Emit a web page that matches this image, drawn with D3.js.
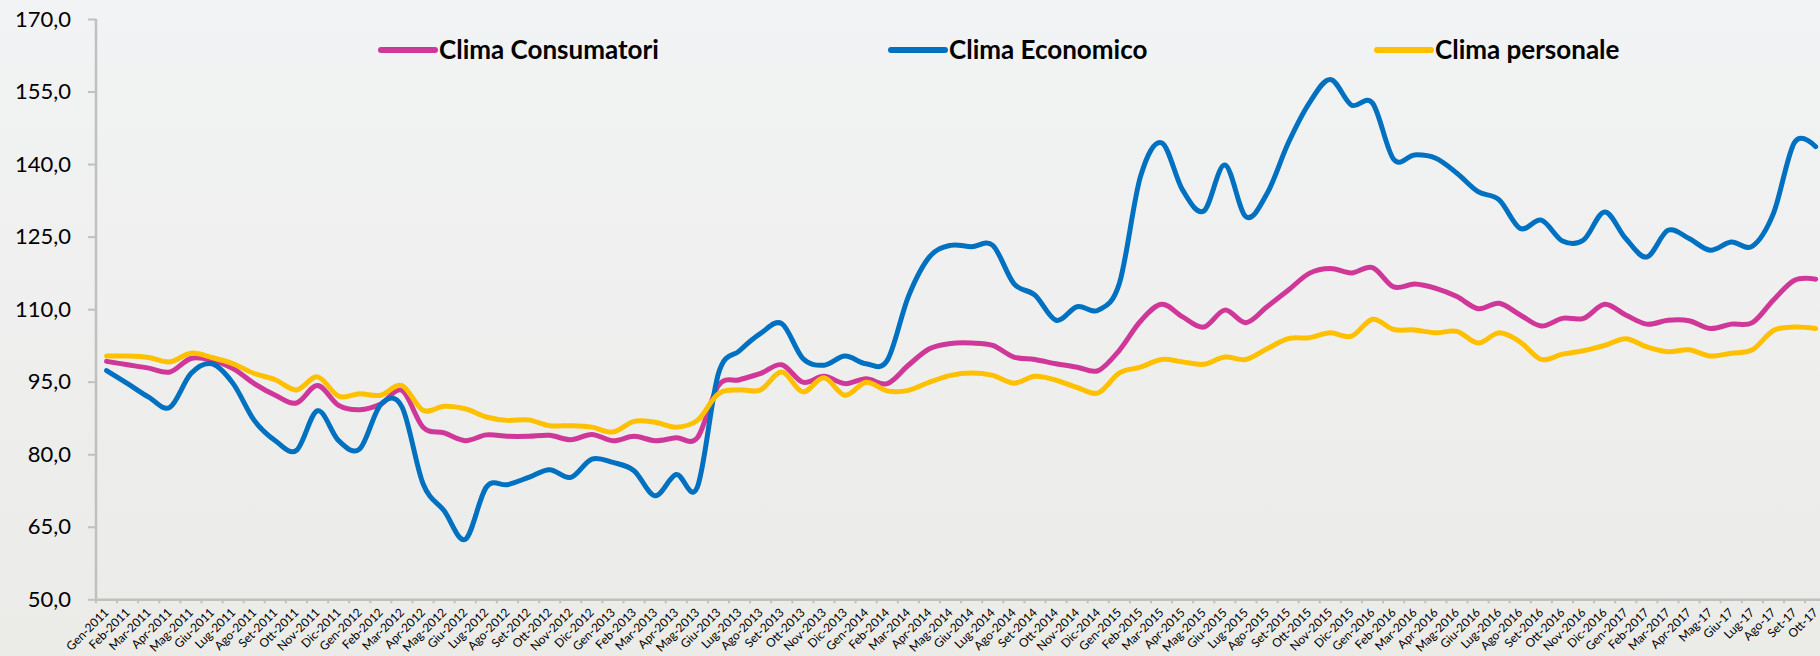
<!DOCTYPE html>
<html>
<head>
<meta charset="utf-8">
<script src="https://cdn.jsdelivr.net/npm/d3@7"></script>
<style>
  html, body { margin: 0; padding: 0; overflow: hidden; }
  body { width: 1820px; height: 656px; }
  text { font-family: Lato, "Noto Sans", sans-serif; fill: #000; }
</style>
</head>
<body>
<script>
// month labels on the x axis
var categories = [
  "Gen-2011","Feb-2011","Mar-2011","Apr-2011","Mag-2011","Giu-2011","Lug-2011","Ago-2011","Set-2011","Ott-2011","Nov-2011","Dic-2011",
  "Gen-2012","Feb-2012","Mar-2012","Apr-2012","Mag-2012","Giu-2012","Lug-2012","Ago-2012","Set-2012","Ott-2012","Nov-2012","Dic-2012",
  "Gen-2013","Feb-2013","Mar-2013","Apr-2013","Mag-2013","Giu-2013","Lug-2013","Ago-2013","Set-2013","Ott-2013","Nov-2013","Dic-2013",
  "Gen-2014","Feb-2014","Mar-2014","Apr-2014","Mag-2014","Giu-2014","Lug-2014","Ago-2014","Set-2014","Ott-2014","Nov-2014","Dic-2014",
  "Gen-2015","Feb-2015","Mar-2015","Apr-2015","Mag-2015","Giu-2015","Lug-2015","Ago-2015","Set-2015","Ott-2015","Nov-2015","Dic-2015",
  "Gen-2016","Feb-2016","Mar-2016","Apr-2016","Mag-2016","Giu-2016","Lug-2016","Ago-2016","Set-2016","Ott-2016","Nov-2016","Dic-2016",
  "Gen-2017","Feb-2017","Mar-2017","Apr-2017","Mag-17","Giu-17","Lug-17","Ago-17","Set-17","Ott-17"
];

var climaConsumatori = [
  99.2, 98.5, 97.8, 97.0, 99.8, 99.4, 97.7, 94.6, 92.2, 90.6, 94.2, 90.1,
  89.2, 90.4, 93.2, 85.6, 84.4, 82.8, 84.0, 83.7, 83.7, 83.9, 83.0, 84.1,
  82.8, 83.7, 82.8, 83.4, 83.4, 94.2, 95.4, 96.7, 98.5, 94.9, 96.1, 94.6,
  95.6, 94.6, 98.4, 101.8, 102.9, 103.0, 102.5, 100.1, 99.6, 98.7, 98.0, 97.3,
  101.5, 107.5, 111.0, 108.4, 106.3, 109.8, 107.2, 110.5, 113.9, 117.4, 118.4, 117.5,
  118.6, 114.6, 115.2, 114.3, 112.6, 110.1, 111.2, 108.8, 106.5, 108.1, 108.1, 111.0,
  108.8, 106.9, 107.7, 107.6, 106.0, 106.9, 107.2, 111.9, 116.0, 116.2
];

var climaEconomico = [
  97.3, 94.6, 91.8, 89.7, 96.7, 98.7, 94.6, 87.0, 82.8, 80.8, 89.0, 82.8,
  81.1, 90.3, 89.8, 73.9, 68.3, 62.4, 73.2, 73.7, 75.2, 76.8, 75.2, 79.0,
  78.3, 76.6, 71.4, 75.8, 73.2, 96.7, 101.4, 105.0, 107.0, 99.8, 98.4, 100.3,
  98.7, 99.4, 112.6, 120.8, 123.2, 122.9, 123.2, 115.3, 112.9, 107.7, 110.5, 109.8,
  115.3, 137.4, 144.4, 134.6, 130.3, 139.8, 129.1, 133.9, 144.3, 152.6, 157.5, 152.2,
  152.6, 141.0, 141.9, 141.2, 138.1, 134.3, 132.6, 126.7, 128.4, 124.1, 124.3, 130.1,
  124.6, 120.8, 126.3, 124.6, 122.2, 123.9, 123.0, 129.8, 144.5, 143.6
];

var climaPersonale = [
  100.3, 100.3, 100.0, 99.1, 100.9, 100.0, 98.7, 96.7, 95.4, 93.3, 96.0, 92.0,
  92.5, 92.2, 94.2, 89.1, 89.9, 89.4, 87.7, 87.0, 87.1, 85.9, 85.9, 85.6,
  84.6, 86.8, 86.6, 85.6, 87.0, 92.5, 93.3, 93.3, 97.0, 92.9, 95.8, 92.2,
  94.9, 93.1, 93.2, 94.9, 96.3, 96.8, 96.3, 94.7, 96.1, 95.3, 93.8, 92.7,
  96.8, 98.0, 99.6, 99.1, 98.6, 100.1, 99.6, 101.8, 103.9, 104.1, 105.1, 104.4,
  107.9, 105.8, 105.7, 105.1, 105.4, 103.0, 105.1, 103.2, 99.6, 100.7, 101.4, 102.5,
  103.9, 102.2, 101.2, 101.6, 100.3, 100.9, 101.6, 105.6, 106.3, 106.0
];

var seriesNames = ["Clima Consumatori", "Clima Economico", "Clima personale"];
var yTicks = [50, 65, 80, 95, 110, 125, 140, 155, 170];

var width = 1820, height = 656;
var margin = { left: 96, top: 19, bottom: 599.3 };
var band = 21.1;

var series = [
  { name: seriesNames[0], values: climaConsumatori, color: "#cf3799", lx: 381 },
  { name: seriesNames[1], values: climaEconomico, color: "#0070c0", lx: 891 },
  { name: seriesNames[2], values: climaPersonale, color: "#ffc000", lx: 1377 }
];

var fmt = d3.formatLocale({ decimal: ",", thousands: ".", grouping: [3], currency: ["", "€"] }).format(".1f");

var svg = d3.select("body").append("svg").attr("width", width).attr("height", height);

// background gradient
var grad = svg.append("defs").append("linearGradient").attr("id", "bg").attr("x1", 0).attr("y1", 0).attr("x2", 0).attr("y2", 1);
grad.append("stop").attr("offset", "0%").attr("stop-color", "#f2f3f4");
grad.append("stop").attr("offset", "100%").attr("stop-color", "#ebebe8");
svg.append("rect").attr("width", width).attr("height", height).attr("fill", "url(#bg)");

var x = d3.scaleBand().domain(categories).range([margin.left, margin.left + band * categories.length]);
var y = d3.scaleLinear().domain([50, 170]).range([margin.bottom, margin.top]);

// y axis
var yAxis = d3.axisLeft(y).tickValues(yTicks).tickFormat(fmt).tickSize(8).tickPadding(17);
var gy = svg.append("g").attr("transform", "translate(" + margin.left + ",0)").call(yAxis);
gy.select(".domain").attr("stroke", "#c0c0c0").attr("stroke-width", 2.5).attr("d", "M0," + margin.top + "V" + margin.bottom);
gy.selectAll(".tick line").attr("stroke", "#c0c0c0").attr("stroke-width", 2);
gy.selectAll(".tick text").style("font-size", "22px").attr("fill", "#000");

// x axis
var xAxis = d3.axisBottom(x).tickSize(0).tickFormat("");
var gx = svg.append("g").attr("transform", "translate(0," + margin.bottom + ")").call(xAxis);
gx.select(".domain").attr("stroke", "#c0c0c0").attr("stroke-width", 2.5);
// tick marks between the categories
gx.selectAll(".sep").data(categories).enter().append("line")
  .attr("x1", function (d) { return x(d); }).attr("x2", function (d) { return x(d); })
  .attr("y1", 0).attr("y2", 4).attr("stroke", "#c0c0c0").attr("stroke-width", 2);
gx.selectAll(".lbl").data(categories).enter().append("text")
  .attr("transform", function (d) { return "translate(" + (x(d) + x.bandwidth() / 2 - 3) + ",8) rotate(-45)"; })
  .attr("text-anchor", "end").attr("dy", "0.7em")
  .style("font-size", "12px").text(function (d) { return d; });

// lines
var line = d3.line()
  .x(function (d, i) { return x(categories[i]) + x.bandwidth() / 2; })
  .y(function (d) { return y(d); })
  .curve(d3.curveCatmullRom.alpha(0));

series.forEach(function (s) {
  svg.append("path").attr("d", line(s.values)).attr("fill", "none")
    .attr("stroke", s.color).attr("stroke-width", 5).attr("stroke-linejoin", "round").attr("stroke-linecap", "round");
});

// legend
series.forEach(function (s) {
  var g = svg.append("g").attr("transform", "translate(" + s.lx + ",50)");
  g.append("line").attr("x1", 0).attr("x2", 54).attr("stroke", s.color).attr("stroke-width", 6).attr("stroke-linecap", "round");
  g.append("text").attr("x", 58).attr("dy", "0.36em").style("font-size", "26px").style("font-weight", "bold").text(s.name);
});
</script>
</body>
</html>
